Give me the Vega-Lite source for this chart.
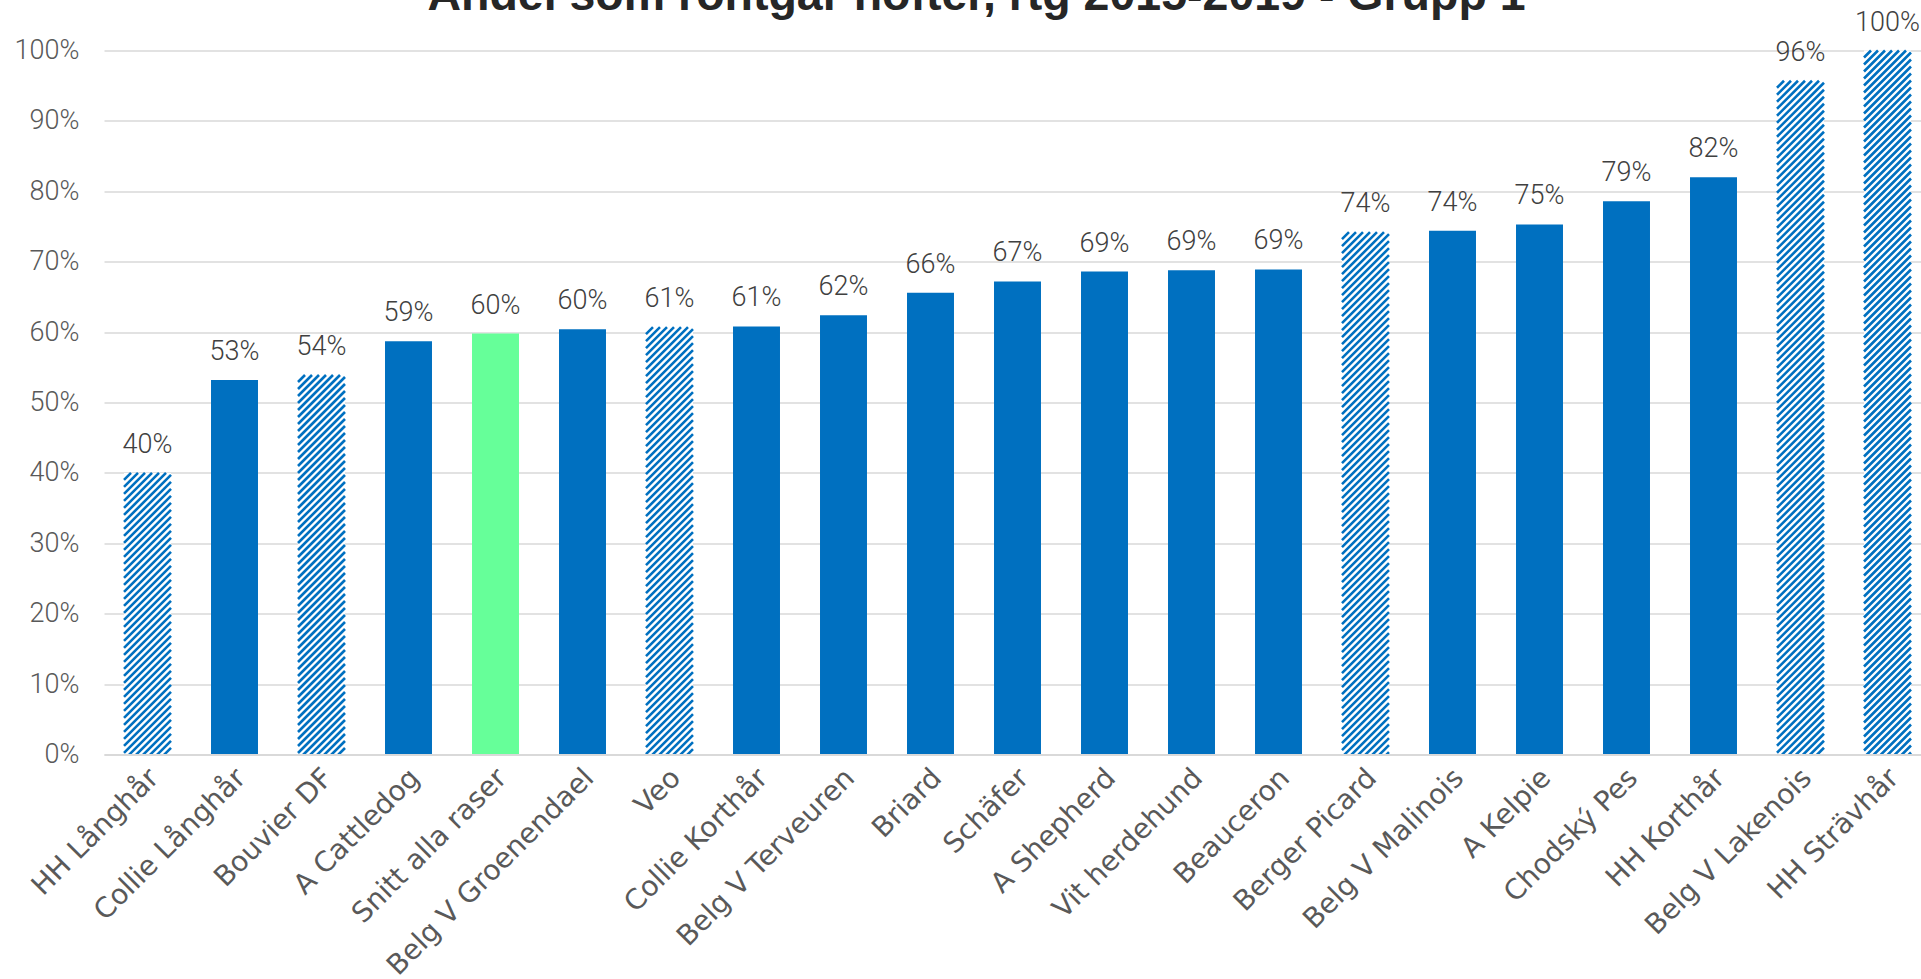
{
  "$schema": "https://vega.github.io/schema/vega-lite/v6.json",
  "autosize": {"type": "none"},
  "padding": {"left": 104, "top": 50.5, "right": 0, "bottom": 224.5},
  "width": 1817,
  "height": 704,
  "background": "white",
  "title": {
    "text": "Andel som röntgar höfter, rtg 2015-2019 - Grupp 1",
    "font": "Liberation Sans",
    "fontSize": 46.5,
    "fontWeight": "bold",
    "color": "#262626",
    "anchor": "middle",
    "frame": "group",
    "offset": -48,
    "baseline": "alphabetic",
    "dx": -36,
    "dy": 0
  },
  "config": {
    "view": {"stroke": null}
  },
  "data": {
    "values": [
      {"breed": "HH Långhår", "value": 0.400, "pattern": "hatched"},
      {"breed": "Collie Långhår", "value": 0.532, "pattern": "solid"},
      {"breed": "Bouvier DF", "value": 0.539, "pattern": "hatched"},
      {"breed": "A Cattledog", "value": 0.587, "pattern": "solid"},
      {"breed": "Snitt alla raser", "value": 0.598, "pattern": "average"},
      {"breed": "Belg V Groenendael", "value": 0.604, "pattern": "solid"},
      {"breed": "Veo", "value": 0.607, "pattern": "hatched"},
      {"breed": "Collie Korthår", "value": 0.608, "pattern": "solid"},
      {"breed": "Belg V Terveuren", "value": 0.624, "pattern": "solid"},
      {"breed": "Briard", "value": 0.656, "pattern": "solid"},
      {"breed": "Schäfer", "value": 0.672, "pattern": "solid"},
      {"breed": "A Shepherd", "value": 0.686, "pattern": "solid"},
      {"breed": "Vit herdehund", "value": 0.688, "pattern": "solid"},
      {"breed": "Beauceron", "value": 0.689, "pattern": "solid"},
      {"breed": "Berger Picard", "value": 0.742, "pattern": "hatched"},
      {"breed": "Belg V Malinois", "value": 0.744, "pattern": "solid"},
      {"breed": "A Kelpie", "value": 0.753, "pattern": "solid"},
      {"breed": "Chodský Pes", "value": 0.786, "pattern": "solid"},
      {"breed": "HH Korthår", "value": 0.820, "pattern": "solid"},
      {"breed": "Belg V Lakenois", "value": 0.957, "pattern": "hatched"},
      {"breed": "HH Strävhår", "value": 1.0, "pattern": "hatched"}
    ]
  },
  "encoding": {
    "x": {
      "field": "breed",
      "type": "nominal",
      "sort": null,
      "scale": {"range": [0, 1827], "paddingInner": 0.46, "paddingOuter": 0.23},
      "axis": {
        "title": null,
        "zindex": 1,
        "domain": true,
        "domainColor": "#D9D9D9",
        "domainWidth": 2,
        "ticks": false,
        "grid": false,
        "labelAngle": -45,
        "labelAlign": "right",
        "labelBaseline": "middle",
        "labelPadding": 19,
        "labelOffset": 7,
        "labelFont": "DejaVu Sans",
        "labelFontSize": 28,
        "labelColor": "#595959",
        "labelOverlap": false,
        "labelLimit": 400
      }
    }
  },
  "layer": [
    {
      "mark": {"type": "bar"},
      "encoding": {
        "y": {
          "field": "value",
          "type": "quantitative",
          "scale": {"domain": [0, 1]},
          "axis": {
            "title": null,
            "values": [0, 0.1, 0.2, 0.3, 0.4, 0.5, 0.6, 0.7, 0.8, 0.9, 1.0],
            "format": ".0%",
            "domain": false,
            "ticks": false,
            "grid": true,
            "gridColor": "#D9D9D9",
            "gridWidth": 1.5,
            "labelFont": "Roboto",
            "labelFontSize": 27,
            "labelFontWeight": 300,
            "labelColor": "#595959",
            "labelPadding": 25
          }
        },
        "color": {
          "field": "pattern",
          "type": "nominal",
          "scale": {"domain": ["solid", "average", "hatched"], "range": ["#0070C0", "#66FF99", "#FFFFFF"]},
          "legend": null
        }
      }
    },
    {
      "transform": [{"filter": "datum.pattern === 'hatched'"}],
      "mark": {
        "type": "point",
        "shape": "M-23.5 7L-16.5 0M-23.5 14L-9.5 0M-23.5 21L-2.5 0M-23.5 28L4.5 0M-23.5 35L11.5 0M-23.5 42L18.5 0M-23.5 49l47-47m-47 54l47-47m-47 54l47-47m-47 54l47-47m-47 54l47-47m-47 54l47-47m-47 54l47-47m-47 54l47-47m-47 54l47-47m-47 54l47-47m-47 54l47-47m-47 54l47-47m-47 54l47-47m-47 54l47-47m-47 54l47-47m-47 54l47-47m-47 54l47-47m-47 54l47-47m-47 54l47-47m-47 54l47-47m-47 54l47-47m-47 54l47-47m-47 54l47-47m-47 54l47-47m-47 54l47-47m-47 54l47-47m-47 54l47-47m-47 54l47-47m-47 54l47-47m-47 54l47-47m-47 54l47-47m-47 54l47-47m-47 54l47-47m-47 54l47-47m-47 54l47-47m-47 54l47-47m-47 54l47-47m-47 54l47-47m-47 54l47-47m-47 54l47-47m-47 54l47-47m-47 54l47-47m-47 54l47-47m-47 54l47-47m-47 54l47-47m-47 54l47-47m-47 54l47-47m-47 54l47-47m-47 54l47-47m-47 54l47-47m-47 54l47-47m-47 54l47-47m-47 54l47-47m-47 54l47-47m-47 54l47-47m-47 54l47-47m-47 54l47-47m-47 54l47-47m-47 54l47-47m-47 54l47-47m-47 54l47-47m-47 54l47-47m-47 54l47-47m-47 54l47-47m-47 54l47-47m-47 54l47-47m-47 54l47-47m-47 54l47-47m-47 54l47-47m-47 54l47-47m-47 54l47-47m-47 54l47-47m-47 54l47-47m-47 54l47-47m-47 54l47-47m-47 54l47-47m-47 54l47-47m-47 54l47-47m-47 54l47-47m-47 54l47-47m-47 54l47-47m-47 54l47-47m-47 54l47-47m-47 54l47-47m-47 54l47-47m-47 54l47-47m-47 54l47-47m-47 54l47-47m-47 54l47-47m-47 54l47-47m-47 54l47-47m-47 54l47-47m-47 54l47-47m-47 54l47-47m-47 54l47-47m-47 54l47-47m-47 54l47-47m-47 54l47-47m-47 54l47-47m-47 54l47-47m-47 54l47-47m-47 54l47-47m-47 54l47-47m-47 54l47-47m-47 54l47-47m-47 54l47-47m-47 54l47-47m-47 54l47-47m-47 54l47-47m-47 54l47-47m-47 54l47-47m-47 54l47-47m-47 54l47-47m-47 54l47-47m-47 54l47-47m-47 54l47-47m-47 54l47-47m-47 54l47-47m-47 54l47-47m-47 54l47-47m-47 54l47-47m-47 54l47-47",
        "size": 4,
        "filled": false,
        "stroke": "#0070C0",
        "strokeWidth": 2.6,
        "strokeCap": "butt",
        "opacity": 1
      },
      "encoding": {
        "y": {"field": "value", "type": "quantitative"}
      }
    },
    {
      "transform": [{"filter": "datum.pattern === 'hatched'"}],
      "mark": {"type": "bar", "color": "#FFFFFF", "width": 52},
      "encoding": {
        "y": {"datum": 0, "type": "quantitative"},
        "y2": {"datum": -0.5}
      }
    },
    {
      "mark": {
        "type": "text",
        "baseline": "alphabetic",
        "dy": -20,
        "font": "Roboto",
        "fontSize": 27,
        "fontWeight": 300,
        "color": "#404040"
      },
      "encoding": {
        "y": {"field": "value", "type": "quantitative"},
        "text": {"field": "value", "type": "quantitative", "format": ".0%"}
      }
    }
  ]
}
